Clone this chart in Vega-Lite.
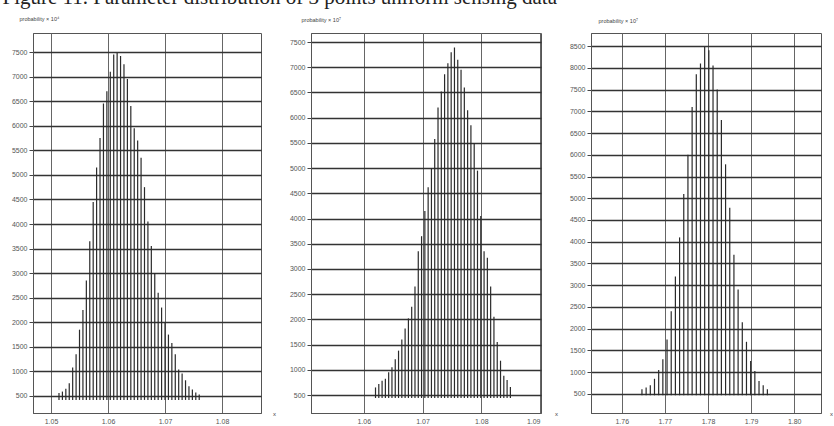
{
  "$schema": "https://vega.github.io/schema/vega-lite/v6.json",
  "padding": {"left": 0, "top": -14, "right": 0, "bottom": 0},
  "background": "white",
  "title": {"text": "Figure 11. Parameter distribution of 3 points uniform sensing data", "anchor": "start", "font": "Liberation Serif", "fontSize": 21, "fontWeight": "normal", "color": "#222", "offset": 8, "dx": 2},
  "bounds": "flush",
  "spacing": 50,
  "datasets": {
    "p1": [
      {"x":1.0514,"p":560},{"x":1.0520,"p":590},{"x":1.0526,"p":650},{"x":1.0532,"p":760},{"x":1.0538,"p":1080},{"x":1.0544,"p":1350},{"x":1.0550,"p":1850},{"x":1.0556,"p":2250},{"x":1.0562,"p":2850},{"x":1.0568,"p":3650},{"x":1.0574,"p":4450},{"x":1.0580,"p":5150},{"x":1.0586,"p":5750},{"x":1.0592,"p":6450},{"x":1.0598,"p":6700},{"x":1.0604,"p":7100},{"x":1.0610,"p":7450},{"x":1.0616,"p":7480},{"x":1.0622,"p":7420},{"x":1.0628,"p":7250},{"x":1.0634,"p":6950},{"x":1.0640,"p":6400},{"x":1.0646,"p":5950},{"x":1.0652,"p":5700},{"x":1.0658,"p":5350},{"x":1.0664,"p":4750},{"x":1.0670,"p":4050},{"x":1.0676,"p":3550},{"x":1.0682,"p":3000},{"x":1.0688,"p":2600},{"x":1.0694,"p":2300},{"x":1.0700,"p":2000},{"x":1.0706,"p":1750},{"x":1.0712,"p":1580},{"x":1.0718,"p":1350},{"x":1.0724,"p":1040},{"x":1.0730,"p":960},{"x":1.0736,"p":820},{"x":1.0742,"p":700},{"x":1.0748,"p":630},{"x":1.0754,"p":570},{"x":1.0760,"p":530}
    ],
    "p2": [
      {"x":1.06200,"p":650},{"x":1.06256,"p":720},{"x":1.06312,"p":785},{"x":1.06368,"p":820},{"x":1.06424,"p":950},{"x":1.06480,"p":1050},{"x":1.06536,"p":1210},{"x":1.06592,"p":1380},{"x":1.06648,"p":1600},{"x":1.06704,"p":1820},{"x":1.06760,"p":2020},{"x":1.06816,"p":2250},{"x":1.06872,"p":2650},{"x":1.06928,"p":3350},{"x":1.06984,"p":3650},{"x":1.07040,"p":4150},{"x":1.07096,"p":4620},{"x":1.07152,"p":5000},{"x":1.07208,"p":5580},{"x":1.07264,"p":6200},{"x":1.07320,"p":6520},{"x":1.07376,"p":6860},{"x":1.07432,"p":7080},{"x":1.07488,"p":7300},{"x":1.07544,"p":7390},{"x":1.07600,"p":7150},{"x":1.07656,"p":6950},{"x":1.07712,"p":6600},{"x":1.07768,"p":6150},{"x":1.07824,"p":5850},{"x":1.07880,"p":5500},{"x":1.07936,"p":4950},{"x":1.07992,"p":4050},{"x":1.08048,"p":3350},{"x":1.08104,"p":3220},{"x":1.08160,"p":2650},{"x":1.08216,"p":2050},{"x":1.08272,"p":1550},{"x":1.08328,"p":1180},{"x":1.08384,"p":880},{"x":1.08440,"p":800},{"x":1.08496,"p":660}
    ],
    "p3": [
      {"x":1.76468,"p":610},{"x":1.76565,"p":650},{"x":1.76662,"p":700},{"x":1.76759,"p":850},{"x":1.76856,"p":1050},{"x":1.76953,"p":1300},{"x":1.77050,"p":1750},{"x":1.77147,"p":2400},{"x":1.77244,"p":3200},{"x":1.77341,"p":4100},{"x":1.77438,"p":5100},{"x":1.77535,"p":6000},{"x":1.77632,"p":7100},{"x":1.77729,"p":7850},{"x":1.77826,"p":8100},{"x":1.77923,"p":8480},{"x":1.78020,"p":8400},{"x":1.78117,"p":8050},{"x":1.78214,"p":7500},{"x":1.78311,"p":6800},{"x":1.78408,"p":5780},{"x":1.78505,"p":4780},{"x":1.78602,"p":3700},{"x":1.78699,"p":2900},{"x":1.78796,"p":2150},{"x":1.78893,"p":1700},{"x":1.78990,"p":1260},{"x":1.79087,"p":1030},{"x":1.79184,"p":800},{"x":1.79281,"p":700},{"x":1.79378,"p":610}
    ]
  },
  "hconcat": [
    {
      "width": 228, "height": 380,
      "data": {"name": "p1"},
      "mark": {"type": "rule", "color": "#2a2a2a", "strokeWidth": 1.2},
      "encoding": {
        "x": {"field": "x", "type": "quantitative", "scale": {"domain": [1.04684, 1.08684], "nice": false, "zero": false},
              "axis": {"values": [1.05, 1.06, 1.07, 1.08], "format": ".2f", "grid": true, "gridColor": "#666", "gridWidth": 1, "ticks": false, "labelPadding": 4, "title": "x", "titleX": 241, "titleY": 0, "titleBaseline": "middle", "titleFontSize": 6}},
        "y": {"field": "p", "type": "quantitative", "scale": {"domain": [154, 7887], "nice": false, "zero": false},
              "axis": {"values": [500,1000,1500,2000,2500,3000,3500,4000,4500,5000,5500,6000,6500,7000,7500], "format": "d", "grid": true, "gridColor": "#333", "gridWidth": 1.4, "tickSize": 4, "labelPadding": 2, "minExtent": 32, "maxExtent": 32, "title": "probability × 10⁴", "titleAngle": 0, "titleAlign": "left", "titleBaseline": "middle", "titleX": -14, "titleY": -15, "titleFontSize": 5.5}},
        "y2": {"datum": 420}
      }
    },
    {
      "width": 230, "height": 380,
      "data": {"name": "p2"},
      "mark": {"type": "rule", "color": "#2a2a2a", "strokeWidth": 1.2},
      "encoding": {
        "x": {"field": "x", "type": "quantitative", "scale": {"domain": [1.05102, 1.09017], "nice": false, "zero": false},
              "axis": {"values": [1.06, 1.07, 1.08, 1.09], "format": ".2f", "grid": true, "gridColor": "#666", "gridWidth": 1, "ticks": false, "labelPadding": 4, "title": "x", "titleX": 245, "titleY": 0, "titleBaseline": "middle", "titleFontSize": 6}},
        "y": {"field": "p", "type": "quantitative", "scale": {"domain": [143, 7680], "nice": false, "zero": false},
              "axis": {"values": [500,1000,1500,2000,2500,3000,3500,4000,4500,5000,5500,6000,6500,7000,7500], "format": "d", "grid": true, "gridColor": "#333", "gridWidth": 1.4, "tickSize": 4, "labelPadding": 2, "minExtent": 32, "maxExtent": 32, "title": "probability × 10⁷", "titleAngle": 0, "titleAlign": "left", "titleBaseline": "middle", "titleX": -10, "titleY": -14, "titleFontSize": 5.5}},
        "y2": {"datum": 440}
      }
    },
    {
      "width": 230, "height": 380,
      "data": {"name": "p3"},
      "mark": {"type": "rule", "color": "#2a2a2a", "strokeWidth": 1.2},
      "encoding": {
        "x": {"field": "x", "type": "quantitative", "scale": {"domain": [1.75286, 1.80622], "nice": false, "zero": false},
              "axis": {"values": [1.76, 1.77, 1.78, 1.79, 1.80], "format": ".2f", "grid": true, "gridColor": "#666", "gridWidth": 1, "ticks": false, "labelPadding": 4, "title": "x", "titleX": 240, "titleY": 0, "titleBaseline": "middle", "titleFontSize": 6}},
        "y": {"field": "p", "type": "quantitative", "scale": {"domain": [63, 8799], "nice": false, "zero": false},
              "axis": {"values": [500,1000,1500,2000,2500,3000,3500,4000,4500,5000,5500,6000,6500,7000,7500,8000,8500], "format": "d", "grid": true, "gridColor": "#333", "gridWidth": 1.4, "tickSize": 4, "labelPadding": 2, "minExtent": 32, "maxExtent": 32, "title": "probability × 10⁷", "titleAngle": 0, "titleAlign": "left", "titleBaseline": "middle", "titleX": 7, "titleY": -13, "titleFontSize": 5.5}},
        "y2": {"datum": 470}
      }
    }
  ],
  "config": {
    "view": {"stroke": "#555", "strokeWidth": 1},
    "axis": {"labelFont": "Liberation Sans", "labelFontSize": 7, "labelColor": "#555", "titleFont": "Liberation Sans", "titleFontWeight": "normal", "titleColor": "#444", "domainColor": "#555", "tickColor": "#444", "gridOpacity": 1}
  }
}
